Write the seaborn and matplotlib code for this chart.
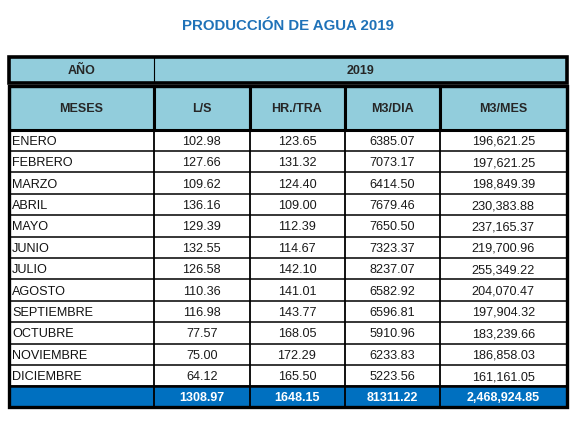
import matplotlib
matplotlib.use("Agg")
import matplotlib.pyplot as plt
import seaborn as sns
from matplotlib.patches import Rectangle

# ---- data ----
title = "PRODUCCIÓN DE AGUA 2019"
year_label = "AÑO"
year = "2019"
headers = ["MESES", "L/S", "HR./TRA", "M3/DIA", "M3/MES"]
months = ["ENERO", "FEBRERO", "MARZO", "ABRIL", "MAYO", "JUNIO", "JULIO",
          "AGOSTO", "SEPTIEMBRE", "OCTUBRE", "NOVIEMBRE", "DICIEMBRE"]
ls_vals = [102.98, 127.66, 109.62, 136.16, 129.39, 132.55, 126.58,
           110.36, 116.98, 77.57, 75.00, 64.12]
hr_vals = [123.65, 131.32, 124.40, 109.00, 112.39, 114.67, 142.10,
           141.01, 143.77, 168.05, 172.29, 165.50]
m3dia_vals = [6385.07, 7073.17, 6414.50, 7679.46, 7650.50, 7323.37, 8237.07,
              6582.92, 6596.81, 5910.96, 6233.83, 5223.56]
m3mes_vals = [196621.25, 197621.25, 198849.39, 230383.88, 237165.37, 219700.96,
              255349.22, 204070.47, 197904.32, 183239.66, 186858.03, 161161.05]
totals = [1308.97, 1648.15, 81311.22, 2468924.85]

# ---- style ----
sns.set_theme(style="white")
plt.rcParams['font.family'] = ['Liberation Sans', 'DejaVu Sans']

W, H = 578, 431
fig = plt.figure(figsize=(W / 100, H / 100), dpi=100)
ax = fig.add_axes([0, 0, 1, 1])
ax.set_xlim(0, W)
ax.set_ylim(H, 0)
ax.axis("off")

HDR = "#92CDDC"
TOT = "#0070C0"
TITLE_C = "#1F72B8"

xs = [9, 154, 249.5, 344.5, 439.5, 567]
year_top, year_bot = 58, 83.5
hdr_top, hdr_bot = 86.5, 130.7
row_h = (387.3 - hdr_bot) / 12
tot_top, tot_bot = 387.3, 408.3
fs = 9.1
fsb = 9.0

ax.text(288, 26, title, ha="center", va="center", color=TITLE_C,
        fontsize=10.8, fontweight="bold")

# year row
ax.add_patch(Rectangle((xs[0], year_top), xs[-1] - xs[0], year_bot - year_top,
                       facecolor=HDR, edgecolor="black", lw=2.6, zorder=2))
ax.plot([xs[1], xs[1]], [year_top, year_bot], color="black", lw=0.8, zorder=3)
ax.text((xs[0] + xs[1]) / 2, (year_top + year_bot) / 2, year_label,
        ha="center", va="center", fontsize=fsb, fontweight="bold", zorder=4)
ax.text((xs[1] + xs[-1]) / 2, (year_top + year_bot) / 2, year,
        ha="center", va="center", fontsize=fsb, fontweight="bold", zorder=4)

# header row
for i, h in enumerate(headers):
    ax.add_patch(Rectangle((xs[i], hdr_top), xs[i + 1] - xs[i], hdr_bot - hdr_top,
                           facecolor=HDR, edgecolor="black", lw=2.2, zorder=2))
    ax.text((xs[i] + xs[i + 1]) / 2, (hdr_top + hdr_bot) / 2, h,
            ha="center", va="center", fontsize=fsb, fontweight="bold", zorder=4)

# data rows
cols = [ls_vals, hr_vals, m3dia_vals, m3mes_vals]
fmts = ["{:.2f}", "{:.2f}", "{:.2f}", "{:,.2f}"]
for r, m in enumerate(months):
    y0 = hdr_bot + r * row_h
    yc = y0 + row_h / 2
    ax.add_patch(Rectangle((xs[0], y0), xs[-1] - xs[0], row_h,
                           facecolor="white", edgecolor="none", zorder=1))
    ax.plot([xs[0], xs[-1]], [y0 + row_h, y0 + row_h], color="black", lw=1.1, zorder=3)
    ax.text(xs[0] + 3, yc + 0.5, m, ha="left", va="center", fontsize=fs,
            color="#111111", zorder=4)
    for c, (vals, f) in enumerate(zip(cols, fmts)):
        ax.text((xs[c + 1] + xs[c + 2]) / 2, yc + 0.5, f.format(vals[r]),
                ha="center", va="center", fontsize=fs, color="#1a1a1a", zorder=4)
for x in xs[1:-1]:
    ax.plot([x, x], [hdr_bot, tot_bot], color="black", lw=1.3, zorder=3)

# total row
ax.add_patch(Rectangle((xs[0], tot_top), xs[-1] - xs[0], tot_bot - tot_top,
                       facecolor=TOT, edgecolor="none", zorder=1))
for c, (v, f) in enumerate(zip(totals, fmts)):
    ax.text((xs[c + 1] + xs[c + 2]) / 2, (tot_top + tot_bot) / 2 + 0.5, f.format(v),
            ha="center", va="center", fontsize=fsb, fontweight="bold",
            color="white", zorder=4)
ax.plot([xs[0], xs[-1]], [tot_top, tot_top], color="black", lw=1.8, zorder=3)

# outer border of body
ax.add_patch(Rectangle((xs[0], hdr_top), xs[-1] - xs[0], tot_bot - hdr_top,
                       facecolor="none", edgecolor="black", lw=2.4, zorder=5))

fig.savefig("out.png", dpi=100)
